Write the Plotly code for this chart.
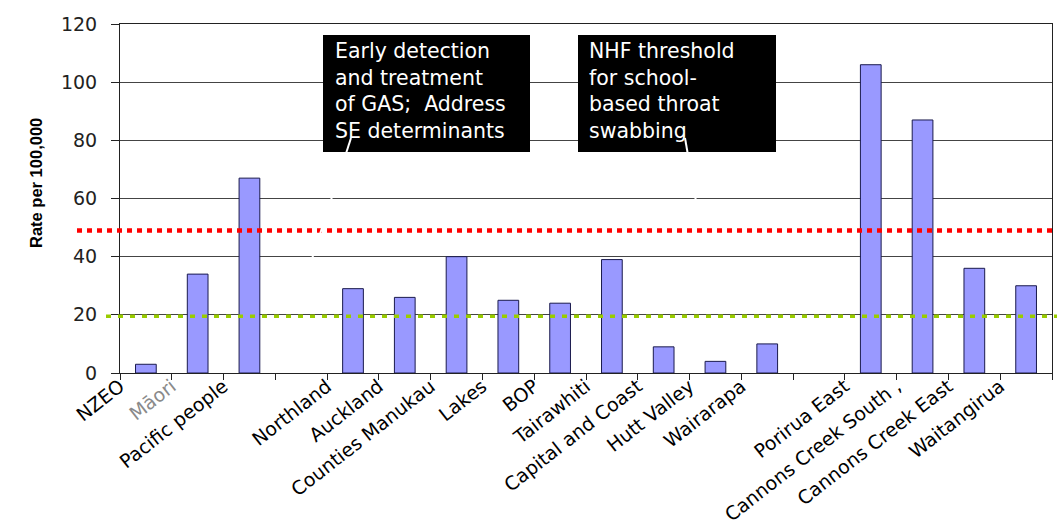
import plotly.graph_objects as go

# Categories (blank entries separate the groups) and rates per 100,000
categories = ["NZEO", "Māori", "Pacific people", "",
              "Northland", "Auckland", "Counties Manukau", "Lakes", "BOP",
              "Tairawhiti", "Capital and Coast", "Hutt Valley", "Wairarapa", "",
              "Porirua East", "Cannons Creek South ,", "Cannons Creek East", "Waitangirua"]
rates = [3, 34, 67, None,
         29, 26, 40, 25, 24,
         39, 9, 4, 10, None,
         106, 87, 36, 30]

# Reference thresholds
upper_threshold = 49
lower_threshold = 19.5

y_ticks = [0, 20, 40, 60, 80, 100, 120]

box_texts = [
    "Early detection<br>and treatment<br>of GAS;  Address<br>SE determinants",
    "NHF threshold<br>for school-<br>based throat<br>swabbing",
]

W, H = 1057, 527
L, R, T, B = 120, 5, 24, 154
PW, PH = W - L - R, H - T - B


def px_x(px):
    return (px - L) / PW


def px_y(py):
    return (H - B - py) / PH


x_idx = list(range(len(categories)))
tick_text = [('<span style="color:#8a8a8a">%s</span>' % c) if c == "Māori" else c
             for c in categories]

fig = go.Figure()
fig.add_trace(go.Bar(
    x=x_idx, y=rates, width=0.4,
    marker=dict(color="#9999FF", line=dict(color="#1a1a4d", width=1)),
    showlegend=False,
))

shapes = []
# dotted threshold lines, running past the plot edges
shapes.append(dict(type="line", xref="paper", yref="y",
                   x0=px_x(77), x1=px_x(1057), y0=upper_threshold, y1=upper_threshold,
                   line=dict(color="#FF0000", width=4.5, dash="5px,5px"), layer="above"))
shapes.append(dict(type="line", xref="paper", yref="y",
                   x0=px_x(106), x1=px_x(1057), y0=lower_threshold, y1=lower_threshold,
                   line=dict(color="#99CC00", width=3.5, dash="5px,7px"), layer="above"))
# black callout boxes
for x0, x1 in [(323, 530), (578, 776)]:
    shapes.append(dict(type="rect", xref="paper", yref="paper",
                       x0=px_x(x0), x1=px_x(x1), y0=px_y(152), y1=px_y(35),
                       fillcolor="black", line=dict(width=0), layer="above"))
# white pointer strokes from the boxes
for (xa, ya), (xb, yb) in [((351, 138), (311, 262)), ((685, 138), (697, 207))]:
    shapes.append(dict(type="line", xref="paper", yref="paper",
                       x0=px_x(xa), y0=px_y(ya), x1=px_x(xb), y1=px_y(yb),
                       line=dict(color="white", width=2), layer="above"))

annotations = []
for xt, txt in [(333, box_texts[0]), (587, box_texts[1])]:
    annotations.append(dict(xref="paper", yref="paper", x=px_x(xt), y=px_y(37),
                            xanchor="left", yanchor="top", align="left",
                            text=txt, showarrow=False,
                            font=dict(family="DejaVu Sans", size=20.5, color="white")))
annotations.append(dict(xref="paper", yref="paper", x=px_x(25), y=px_y(183),
                        text="<b>Rate per 100,000</b>", textangle=-90, showarrow=False,
                        font=dict(family="Liberation Sans", size=16.5, color="black")))

fig.update_layout(
    width=W, height=H,
    margin=dict(l=L, r=R, t=T, b=B, autoexpand=False),
    paper_bgcolor="white", plot_bgcolor="white",
    shapes=shapes, annotations=annotations,
    bargap=0.6,
)
fig.update_xaxes(
    range=[-0.5, len(categories) - 0.5],
    tickmode="array", tickvals=x_idx, ticktext=tick_text,
    ticks="", tickangle=-38, ticklabelshift=-26, ticklabelstandoff=-6,
    tickfont=dict(family="DejaVu Sans", size=19, color="black"),
    showline=True, linecolor="#222", linewidth=1, mirror=True,
    showgrid=False, zeroline=False, automargin=False,
    minor=dict(tickmode="linear", tick0=-0.5, dtick=1, ticks="outside",
               ticklen=6, tickcolor="#222", showgrid=False),
)
fig.update_yaxes(
    range=[0, 120], tickmode="array", tickvals=y_ticks,
    ticks="outside", ticklen=8, tickcolor="#222", ticklabelstandoff=10,
    tickfont=dict(family="DejaVu Sans", size=19, color="#222"),
    showline=True, linecolor="#222", linewidth=1, mirror=True,
    showgrid=True, gridcolor="#444", gridwidth=1, zeroline=False, automargin=False,
)

fig.write_html("out.html")
